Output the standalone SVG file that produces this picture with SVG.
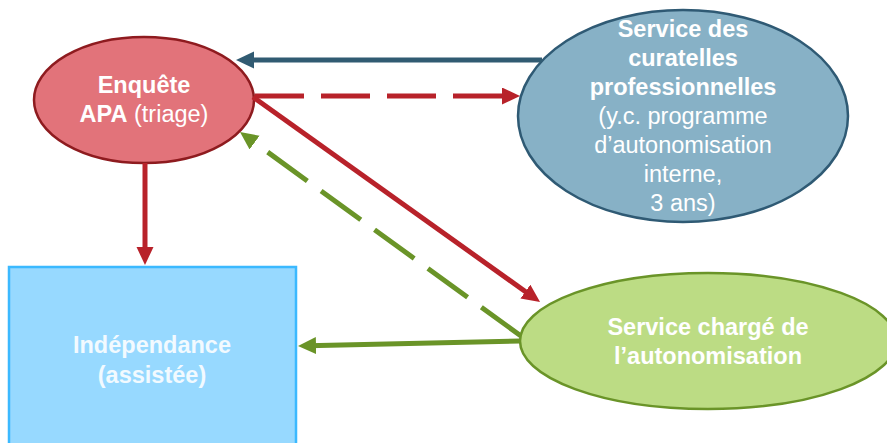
<svg xmlns="http://www.w3.org/2000/svg" width="887" height="443" viewBox="0 0 887 443">
<style>
text{font-family:"Liberation Sans",Arial,sans-serif;font-size:23.5px;fill:#fff;text-anchor:middle}
.b{font-weight:bold}
.c{fill:none;stroke-width:5}
</style>
<defs>
<marker id="mr" markerUnits="userSpaceOnUse" markerWidth="20" markerHeight="18" refX="8" refY="8.5" orient="auto"><path d="M0,0 L18,8.5 L0,17 z" fill="#B8222A"/></marker>
<marker id="mg" markerUnits="userSpaceOnUse" markerWidth="20" markerHeight="18" refX="8" refY="8.5" orient="auto"><path d="M0,0 L18,8.5 L0,17 z" fill="#6A9428"/></marker>
<marker id="mb" markerUnits="userSpaceOnUse" markerWidth="20" markerHeight="18" refX="8" refY="8.5" orient="auto"><path d="M0,0 L18,8.5 L0,17 z" fill="#315B72"/></marker>
</defs>
<rect width="887" height="443" fill="#fff"/>
<g id="independance">
<rect x="9" y="267" width="287" height="190" fill="#97D9FF" stroke="#3BB9FF" stroke-width="2.5"/>
<text class="b" x="152" y="353" style="fill:#F2FAFF">Indépendance</text>
<text class="b" x="152" y="383" style="fill:#F2FAFF">(assistée)</text>
</g>
<g id="enquete">
<ellipse cx="144" cy="100" rx="110" ry="63" fill="#E2737A" stroke="#8E1B1F" stroke-width="2.5"/>
<text class="b" x="144" y="93">Enquête</text>
<text x="144" y="122"><tspan class="b">APA</tspan> (triage)</text>
</g>
<g id="curatelles">
<ellipse cx="683" cy="116" rx="165" ry="106" fill="#87B1C6" stroke="#2F5A74" stroke-width="2.5"/>
<text class="b" x="683" y="37">Service des</text>
<text class="b" x="683" y="66">curatelles</text>
<text class="b" x="683" y="95">professionnelles</text>
<text x="683" y="124">(y.c. programme</text>
<text x="683" y="153">d’autonomisation</text>
<text x="683" y="182">interne,</text>
<text x="683" y="211">3 ans)</text>
</g>
<g id="autonomisation">
<ellipse cx="708" cy="341" rx="188" ry="68" fill="#BCDC84" stroke="#6A9428" stroke-width="2.5"/>
<text class="b" x="708" y="335">Service chargé de</text>
<text class="b" x="708" y="364">l’autonomisation</text>
</g>
<g id="connectors">
<line class="c" x1="542" y1="60" x2="246" y2="60" stroke="#315B72" marker-end="url(#mb)"/>
<line class="c" x1="255" y1="96" x2="510" y2="96" stroke="#B8222A" stroke-dasharray="49 17" marker-end="url(#mr)"/>
<line class="c" x1="253" y1="97" x2="531.9" y2="296.2" stroke="#B8222A" marker-end="url(#mr)"/>
<line class="c" x1="521" y1="336" x2="248.1" y2="137.9" stroke="#6A9428" stroke-dasharray="49 17" marker-end="url(#mg)"/>
<line class="c" x1="520" y1="341" x2="308" y2="345.8" stroke="#6A9428" marker-end="url(#mg)"/>
<line class="c" x1="145" y1="163" x2="145" y2="255" stroke="#B8222A" marker-end="url(#mr)"/>
</g>
</svg>
